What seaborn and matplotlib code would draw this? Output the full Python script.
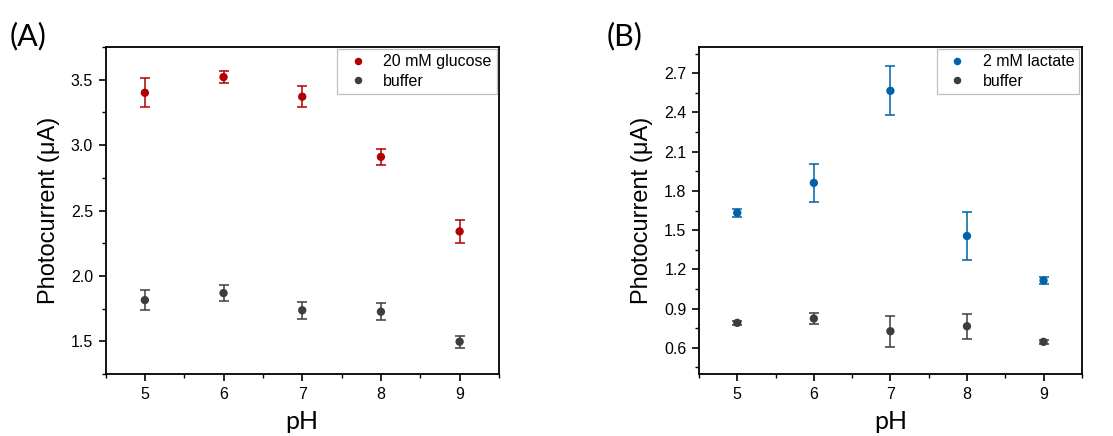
import numpy as np
import pandas as pd
import matplotlib
matplotlib.use("Agg")
import matplotlib.pyplot as plt
import seaborn as sns
from matplotlib.ticker import MultipleLocator

# ---- data ----
ph = [5, 6, 7, 8, 9]
glucose_mean = [3.40, 3.52, 3.37, 2.91, 2.34]
glucose_err = [0.11, 0.045, 0.08, 0.06, 0.09]
bufferA_mean = [1.815, 1.869, 1.737, 1.726, 1.497]
bufferA_err = [0.075, 0.06, 0.067, 0.065, 0.045]

lactate_mean = [1.632, 1.861, 2.565, 1.455, 1.115]
lactate_err = [0.03, 0.148, 0.187, 0.183, 0.025]
bufferB_mean = [0.791, 0.824, 0.727, 0.765, 0.646]
bufferB_err = [0.015, 0.045, 0.117, 0.095, 0.015]

sns.set_style("ticks")
plt.rcParams['font.family'] = ['Liberation Sans', 'DejaVu Sans']
plt.rcParams['text.color'] = 'black'
plt.rcParams['axes.labelcolor'] = 'black'
plt.rcParams['xtick.color'] = 'black'
plt.rcParams['ytick.color'] = 'black'

fig = plt.figure(figsize=(11.13, 4.36), dpi=100)
axA = fig.add_axes([0.0948, 0.1422, 0.3535, 0.750])
axB = fig.add_axes([0.628, 0.1422, 0.344, 0.750])

RED = "#b00000"
BLUE = "#0062a8"
GRAY = "#3d3d3d"


def panel(ax, m1, e1, lab1, c1, m2, e2, lab2, c2):
    df = pd.DataFrame({
        "pH": ph + ph,
        "val": m1 + m2,
        "series": [lab1] * len(ph) + [lab2] * len(ph),
    })
    for m, e, c in [(m1, e1, c1), (m2, e2, c2)]:
        ax.errorbar(ph, m, yerr=e, fmt="none", ecolor=c, elinewidth=1.3,
                    capsize=3.5, capthick=1.3, alpha=0.85, zorder=2)
    sns.scatterplot(data=df, x="pH", y="val", hue="series",
                    palette={lab1: c1, lab2: c2}, s=36, edgecolor="none",
                    ax=ax, zorder=3)
    leg = ax.legend(loc="upper right", fontsize=11.5, frameon=True,
                    fancybox=False, edgecolor="#b0b0b0", borderaxespad=0.15,
                    handletextpad=0.6, borderpad=0.3, labelspacing=0.3,
                    markerscale=0.9)
    leg.get_frame().set_linewidth(0.9)
    ax.set_xlim(4.5, 9.5)
    ax.xaxis.set_major_locator(MultipleLocator(1))
    ax.xaxis.set_minor_locator(MultipleLocator(0.5))
    for s in ax.spines.values():
        s.set_linewidth(1.3)
        s.set_color("black")
    ax.tick_params(axis="both", which="major", direction="out", length=5,
                   width=1.2, labelsize=11.5, pad=4, colors="black")
    ax.tick_params(axis="both", which="minor", direction="out", length=3,
                   width=1.0)
    ax.tick_params(top=False, right=False, which="both")
    ax.set_xlabel("pH", fontsize=18, family=["Lato", "DejaVu Sans"], labelpad=6)
    ax.set_ylabel("Photocurrent (μA)", fontsize=17, labelpad=8)


panel(axA, glucose_mean, glucose_err, "20 mM glucose", RED,
      bufferA_mean, bufferA_err, "buffer", GRAY)
axA.set_ylim(1.25, 3.75)
axA.yaxis.set_major_locator(MultipleLocator(0.5))
axA.yaxis.set_minor_locator(MultipleLocator(0.25))
axA.yaxis.set_major_formatter(matplotlib.ticker.FormatStrFormatter("%.1f"))

panel(axB, lactate_mean, lactate_err, "2 mM lactate", BLUE,
      bufferB_mean, bufferB_err, "buffer", GRAY)
axB.set_ylim(0.4, 2.9)
axB.set_yticks([0.6, 0.9, 1.2, 1.5, 1.8, 2.1, 2.4, 2.7])
axB.yaxis.set_minor_locator(MultipleLocator(0.15))
axB.yaxis.set_major_formatter(matplotlib.ticker.FormatStrFormatter("%.1f"))

fig.text(0.009, 0.895, "(A)", fontsize=22, family=["Lato", "DejaVu Sans"])
fig.text(0.545, 0.895, "(B)", fontsize=22, family=["Lato", "DejaVu Sans"])

fig.savefig("out.png", dpi=100, facecolor="white")
